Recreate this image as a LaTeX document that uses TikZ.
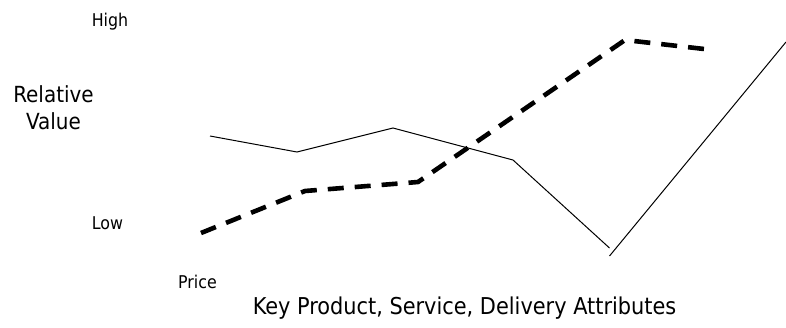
\documentclass[tikz,border=0pt]{standalone}
\usepackage{fontspec}
\setmainfont{DejaVu Sans Condensed}
\begin{document}
\begin{tikzpicture}[x=1pt,y=-1pt,
  small/.style={inner sep=0pt,anchor=base,font=\fontsize{17.6}{20}\selectfont},
  big/.style={inner sep=0pt,anchor=base,font=\fontsize{23.2}{27}\selectfont},
  twoline/.style={inner sep=0pt,anchor=base,font=\fontsize{22.2}{27}\selectfont,align=center},
  curve/.style={line width=1pt,line join=miter},
  dashcurve/.style={line width=4.6pt,dash pattern=on 16pt off 11pt,line join=round}]
\useasboundingbox (0,0) rectangle (786,327);
% axis labels
\node[small] (high) at (110,26) {High};
\node[small] (low) at (107.5,229) {Low};
\node[twoline] (rv) at (53.5,129) {Relative\\Value};
\node[small] (price) at (197.5,288) {Price};
\node[big] (attr) at (464.5,314) {Key Product, Service, Delivery Attributes};
% solid profile
\coordinate (s1) at (210,136);
\coordinate (s2) at (297,152);
\coordinate (s3) at (393,128);
\coordinate (s4) at (513,160);
\coordinate (s5) at (609.5,248);
\coordinate (s6) at (609.5,256);
\coordinate (s7) at (786,42);
\draw[curve] (s1) -- (s2) -- (s3) -- (s4) -- (s5);
\draw[curve] (s6) -- (s7);
% dashed profile
\coordinate (d1) at (201,233);
\coordinate (d2) at (305,191);
\coordinate (d3) at (418,182);
\coordinate (d4) at (625,40);
\coordinate (d5) at (713,50);
\draw[dashcurve] (d1) -- (d2) -- (d3) -- (d4) -- (d5);
\end{tikzpicture}
\end{document}
